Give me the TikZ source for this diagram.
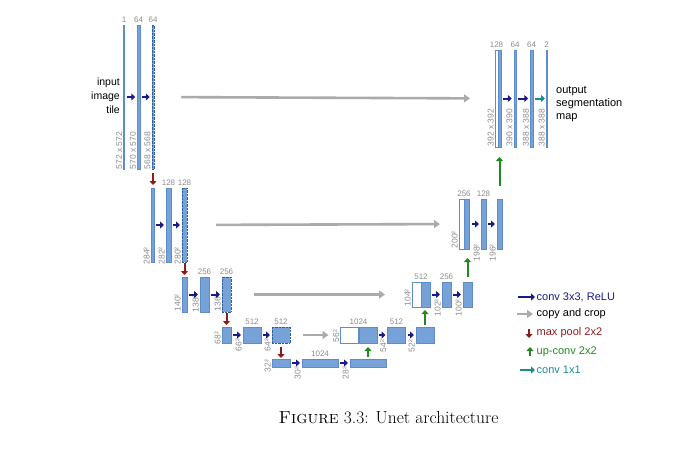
\documentclass[tikz,border=0pt]{standalone}
\usepackage{fontspec}
\newfontfamily\arialfont{Liberation Sans}
\usetikzlibrary{arrows.meta,positioning}
\definecolor{barfill}{HTML}{76A2D8}
\definecolor{barline}{HTML}{5E8CCB}
\definecolor{cropline}{HTML}{2F5F9F}
\definecolor{convblue}{HTML}{1A1A8A}
\definecolor{copygrey}{HTML}{ABABAB}
\definecolor{poolred}{HTML}{8E1B1B}
\definecolor{upgreen}{HTML}{1F8A1F}
\definecolor{oneteal}{HTML}{1E8C8C}
\definecolor{lblgrey}{HTML}{8C8C8C}
\begin{document}
\begin{tikzpicture}[x=1pt,y=-1pt,
  bar/.style={draw=barline,fill=barfill,line width=0.4pt,inner sep=0pt,outer sep=0pt},
  cropbar/.style={bar,draw=cropline,densely dotted},
  skipbar/.style={bar,fill=white},
  chn/.style={text=lblgrey,font=\arialfont\fontsize{8}{9}\selectfont,inner sep=0.5pt},
  res/.style={text=lblgrey,font=\arialfont\fontsize{8.5}{9}\selectfont,rotate=90,anchor=south west,inner sep=0.5pt,inner ysep=1pt},
  lgd/.style={font=\arialfont\fontsize{11}{13}\selectfont,anchor=west,inner sep=0.5pt},
  conv/.style={convblue,line width=2pt,-{Triangle[length=4pt,width=7pt]},shorten <=2pt,shorten >=2pt},
  copy/.style={copygrey,line width=2.6pt,-{Triangle[length=6pt,width=8pt]}},
  pool/.style={poolred,line width=2pt,-{Triangle[length=4pt,width=7pt]},shorten <=2pt,shorten >=2pt},
  upconv/.style={upgreen,line width=2pt,-{Triangle[length=4pt,width=7pt]}},
  one/.style={oneteal,line width=2pt,-{Triangle[length=4pt,width=7pt]},shorten <=2pt,shorten >=1pt}]
\useasboundingbox (0,0) rectangle (676,452);

\node[bar,minimum width=1pt,minimum height=144pt] (a1) at (124,97) {};
\node[bar,minimum width=2.5pt,minimum height=144pt] (b1) at (138.5,97) {};
\node[cropbar,minimum width=2.5pt,minimum height=144pt] (c1) at (153,97) {};
\node[bar,minimum width=3pt,minimum height=74pt] (a2) at (152.5,225) {};
\node[bar,minimum width=5pt,minimum height=74pt] (b2) at (168.5,225) {};
\node[cropbar,minimum width=5pt,minimum height=74pt] (c2) at (184.5,225) {};
\node[bar,minimum width=5pt,minimum height=35pt] (a3) at (184.5,294.5) {};
\node[bar,minimum width=9pt,minimum height=35pt] (b3) at (204.5,294.5) {};
\node[cropbar,minimum width=9pt,minimum height=35pt] (c3) at (226.5,294.5) {};
\node[bar,minimum width=9pt,minimum height=16pt] (a4) at (226.5,335) {};
\node[bar,minimum width=18pt,minimum height=16pt] (b4) at (252,335) {};
\node[cropbar,minimum width=18pt,minimum height=16pt] (c4) at (281,335) {};
\node[bar,minimum width=18pt,minimum height=8pt] (a5) at (281,363) {};
\node[bar,minimum width=36pt,minimum height=8pt] (b5) at (320,363) {};
\node[bar,minimum width=36pt,minimum height=8pt] (c5) at (368,363) {};
\node[skipbar,minimum width=18pt,minimum height=16pt] (w4) at (349.5,335) {};
\node[bar,minimum width=18pt,minimum height=16pt] (u4) at (368,335) {};
\node[bar,minimum width=18pt,minimum height=16pt] (b4r) at (396.5,335) {};
\node[bar,minimum width=18pt,minimum height=16pt] (c4r) at (425,335) {};
\node[skipbar,minimum width=9pt,minimum height=25pt] (w3) at (416.5,294.5) {};
\node[bar,minimum width=9pt,minimum height=25pt] (u3) at (425.5,294.5) {};
\node[bar,minimum width=9pt,minimum height=25pt] (b3r) at (446.5,294.5) {};
\node[bar,minimum width=9pt,minimum height=25pt] (c3r) at (467.5,294.5) {};
\node[skipbar,minimum width=5pt,minimum height=50pt] (w2) at (461.5,224) {};
\node[bar,minimum width=5.5pt,minimum height=50pt] (u2) at (466.75,224) {};
\node[bar,minimum width=5pt,minimum height=50pt] (b2r) at (483.5,224) {};
\node[bar,minimum width=5pt,minimum height=50pt] (c2r) at (499.5,224) {};
\node[skipbar,minimum width=3pt,minimum height=97pt] (w1) at (496.5,98.5) {};
\node[bar,minimum width=3pt,minimum height=97pt] (u1) at (499.5,98.5) {};
\node[bar,minimum width=2.5pt,minimum height=97pt] (b1r) at (515,98.5) {};
\node[bar,minimum width=2.5pt,minimum height=97pt] (c1r) at (531.5,98.5) {};
\node[bar,minimum width=1pt,minimum height=97pt] (d1r) at (546.5,98.5) {};

\node[chn,above=1.5pt of a1] {1};
\node[chn,above=1.5pt of b1] {64};
\node[chn,above=1.5pt of c1] {64};
\node[chn,above=1.5pt of b2] {128};
\node[chn,above=1.5pt of c2] {128};
\node[chn,above=1.5pt of b3] {256};
\node[chn,above=1.5pt of c3] {256};
\node[chn,above=1.5pt of b4] {512};
\node[chn,above=1.5pt of c4] {512};
\node[chn,above=1.5pt of b5] {1024};
\node[chn,above=1.5pt of w4.north east] {1024};
\node[chn,above=1.5pt of b4r] {512};
\node[chn,above=1.5pt of w3.north east] {512};
\node[chn,above=1.5pt of b3r] {256};
\node[chn,above=1.5pt of w2.north east] {256};
\node[chn,above=1.5pt of b2r] {128};
\node[chn,above=1.5pt of w1] {128};
\node[chn,above=1.5pt of b1r] {64};
\node[chn,above=1.5pt of c1r] {64};
\node[chn,above=1.5pt of d1r] {2};

\node[res] at ([yshift=-1pt]a1.south west) {572 x 572};
\node[res] at ([yshift=-1pt]b1.south west) {570 x 570};
\node[res] at ([yshift=-1pt]c1.south west) {568 x 568};
\node[res] at ([yshift=-3pt]a2.south west) {284²};
\node[res] at ([yshift=-3pt]b2.south west) {282²};
\node[res] at ([yshift=-3pt]c2.south west) {280²};
\node[res] at (a3.south west) {140²};
\node[res] at ([yshift=-1pt]b3.south west) {138²};
\node[res] at (c3.south west) {136²};
\node[res] at ([yshift=-2pt]a4.south west) {68²};
\node[res] at ([yshift=-9pt]b4.south west) {66²};
\node[res] at ([yshift=-9pt]c4.south west) {64²};
\node[res] at ([yshift=-6pt]a5.south west) {32²};
\node[res] at ([yshift=-13pt]b5.south west) {30²};
\node[res] at ([yshift=-13pt]c5.south west) {28²};
\node[res] at (w4.south west) {56²};
\node[res] at ([yshift=-10pt]b4r.south west) {54²};
\node[res] at ([yshift=-10pt]c4r.south west) {52²};
\node[res] at (w3.south west) {104²};
\node[res] at ([yshift=-10pt]b3r.south west) {102²};
\node[res] at ([yshift=-10pt]c3r.south west) {100²};
\node[res] at (w2.south west) {200²};
\node[res] at ([yshift=-13pt]b2r.south west) {198²};
\node[res] at ([yshift=-13pt]c2r.south west) {196²};
\node[res] at (w1.south west) {392 x 392};
\node[res] at (b1r.south west) {390 x 390};
\node[res] at (c1r.south west) {388 x 388};
\node[res] at (d1r.south west) {388 x 388};

\node[font=\arialfont\fontsize{10.5}{14}\selectfont,align=right,anchor=east,inner sep=0pt] (inp) at (120,96) {input\\image\\tile};
\node[font=\arialfont\fontsize{11}{13}\selectfont,align=left,anchor=west,inner sep=0pt] (outp) at (556,104) {output\\segmentation\\map};

\draw[conv] (a1) -- (b1);
\draw[conv] (b1) -- (c1);
\draw[conv] (a2) -- (b2);
\draw[conv] (b2) -- (c2);
\draw[conv] (a3) -- (b3);
\draw[conv] (b3) -- (c3);
\draw[conv] (a4) -- (b4);
\draw[conv] (b4) -- (c4);
\draw[conv] (a5) -- (b5);
\draw[conv] (b5) -- (c5);
\draw[conv] (u4) -- (b4r);
\draw[conv] (b4r) -- (c4r);
\draw[conv] (u3) -- (b3r);
\draw[conv] (b3r) -- (c3r);
\draw[conv] (u2) -- (b2r);
\draw[conv] (b2r) -- (c2r);
\draw[conv] (u1) -- (b1r);
\draw[conv] (b1r) -- (c1r);
\draw[one] (c1r) -- (d1r);

\draw[copy,shorten <=27pt,shorten >=25pt] (c1) -- (w1);
\draw[copy,shorten <=29pt,shorten >=19pt] (c2) -- (w2);
\draw[copy,shorten <=23pt,shorten >=27pt] (c3) -- (w3);
\draw[copy,shorten <=13pt,shorten >=12pt] (c4) -- (w4);

\draw[pool,shorten <=4pt,shorten >=3pt] (c1.south) -- (c1.south |- a2.north);
\draw[pool,shorten <=1pt] (c2.south) -- (c2.south |- a3.north);
\draw[pool,shorten <=1pt] (c3.south) -- (c3.south |- a4.north);
\draw[pool,shorten <=4pt,shorten >=1pt] (c4.south) -- (c4.south |- a5.north);

\draw[upconv,shorten <=2pt,shorten >=4pt] (c5.north) -- (c5.north |- u4.south);
\draw[upconv,shorten <=2pt,shorten >=3pt] (c4r.north) -- (c4r.north |- u3.south);
\draw[upconv,shorten <=5pt,shorten >=9pt] (c3r.north) -- (c3r.north |- u2.south);
\draw[upconv,shorten <=13pt,shorten >=10pt] (c2r.north) -- (c2r.north |- u1.south);

\node[lgd,text=convblue] (lconv) at (536,297) {conv 3x3, ReLU};
\node[lgd] (lcopy) at (536,314) {copy and crop};
\node[lgd,text=poolred] (lpool) at (536,333) {max pool 2x2};
\node[lgd,text=upgreen] (lup) at (536,352) {up-conv 2x2};
\node[lgd,text=oneteal] (lone) at (536,370) {conv 1x1};
\draw[conv,shorten <=0pt,shorten >=1pt] ([xshift=-18pt]lconv.west) -- (lconv.west);
\draw[copy,line width=2pt,shorten >=3pt] ([xshift=-19pt]lcopy.west) -- (lcopy.west);
\draw[pool,shorten <=0pt,shorten >=0pt] ([xshift=-7pt,yshift=4pt]lpool.west) -- ([xshift=-7pt,yshift=-5pt]lpool.west);
\draw[upconv] ([xshift=-6pt,yshift=-4pt]lup.west) -- ([xshift=-6pt,yshift=5pt]lup.west);
\draw[one,shorten <=0pt] ([xshift=-16pt]lone.west) -- (lone.west);

\node[font=\fontsize{17.5}{21}\selectfont,inner sep=0pt] (cap) at (388.5,418) {\textsc{Figure} 3.3: Unet architecture};
\end{tikzpicture}
\end{document}
